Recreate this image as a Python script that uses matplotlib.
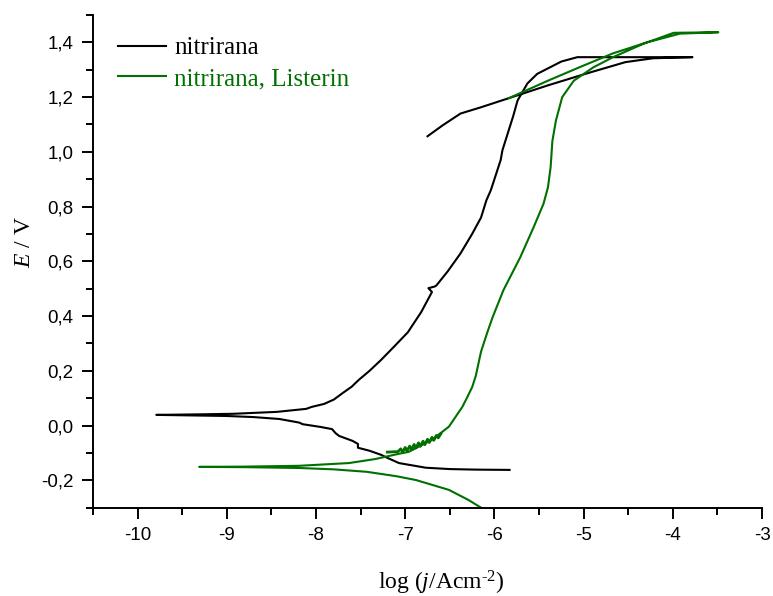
import matplotlib
matplotlib.use('Agg')
import matplotlib.pyplot as plt
from matplotlib.ticker import MultipleLocator, FuncFormatter

# nitrirana (black) - cathodic end -> Ecorr -> anodic -> reverse scan
black_x = [-5.83, -6.20, -6.50, -6.77, -7.07, -7.20, -7.27, -7.40, -7.53, -7.53,
           -7.59, -7.74, -7.78, -7.82, -7.95, -8.15, -8.19, -8.41,
           -8.70, -9.00, -9.19, -9.79, -9.30, -8.93, -8.44, -8.11, -8.05, -7.91,
           -7.80, -7.70, -7.60, -7.52, -7.40, -7.27, -7.12, -6.97, -6.82, -6.70,
           -6.74, -6.67, -6.65, -6.52, -6.38, -6.25, -6.15, -6.09, -6.04, -5.97,
           -5.93, -5.91, -5.85, -5.79, -5.74, -5.63, -5.52, -5.40, -5.25, -5.07,
           -3.78, -4.22, -4.53, -4.96, -5.40, -5.85, -6.15, -6.38, -6.58, -6.75]
black_y = [-0.162, -0.161, -0.159, -0.154, -0.137, -0.118, -0.107, -0.092, -0.081, -0.067,
           -0.056, -0.038, -0.028, -0.013, -0.005, 0.005, 0.011, 0.024,
           0.031, 0.035, 0.036, 0.039, 0.041, 0.043, 0.050, 0.061, 0.068, 0.079,
           0.095, 0.119, 0.142, 0.167, 0.200, 0.240, 0.290, 0.341, 0.415, 0.488,
           0.502, 0.508, 0.512, 0.565, 0.629, 0.700, 0.760, 0.823, 0.860, 0.930,
           0.970, 1.006, 1.068, 1.130, 1.188, 1.250, 1.285, 1.305, 1.330, 1.346,
           1.346, 1.342, 1.328, 1.287, 1.243, 1.195, 1.163, 1.140, 1.097, 1.057]

# nitrirana, Listerin (green)
green_x = [-6.10, -6.15, -6.29, -6.51, -6.88, -7.10, -7.43, -7.80, -8.19, -8.80,
           -9.31, -8.80, -8.19, -7.63, -7.33, -7.07, -6.96, -6.70, -6.51, -6.36,
           -6.31, -6.25, -6.21, -6.15, -6.08, -6.02, -5.90, -5.71, -5.56, -5.45,
           -5.40, -5.37, -5.35, -5.31, -5.24, -5.11, -4.89, -4.67, -4.33, -3.99,
           -3.49, -3.92, -4.29, -4.67, -5.04, -5.40, -5.84]
green_y = [-0.31, -0.300, -0.272, -0.235, -0.199, -0.185, -0.169, -0.160, -0.155, -0.152,
           -0.151, -0.150, -0.147, -0.137, -0.122, -0.103, -0.096, -0.052, -0.004, 0.068,
           0.100, 0.140, 0.180, 0.270, 0.340, 0.396, 0.494, 0.615, 0.725, 0.810,
           0.870, 0.944, 1.040, 1.115, 1.200, 1.260, 1.309, 1.346, 1.395, 1.435,
           1.437, 1.432, 1.400, 1.360, 1.310, 1.260, 1.196]

# noisy stub on the green curve
noise_x = [-7.20, -7.08, -7.05, -7.03, -7.00, -6.98, -6.95, -6.93, -6.90, -6.88,
           -6.85, -6.83, -6.80, -6.78, -6.75, -6.73, -6.70, -6.68, -6.65, -6.63, -6.60]
noise_y = [-0.097, -0.095, -0.085, -0.097, -0.080, -0.093, -0.075, -0.088, -0.069, -0.082,
           -0.063, -0.076, -0.057, -0.070, -0.050, -0.062, -0.043, -0.054, -0.036, -0.045, -0.030]

green = '#007000'

plt.rcParams['font.family'] = 'Liberation Sans'
plt.rcParams['mathtext.fontset'] = 'custom'
plt.rcParams['mathtext.rm'] = 'Liberation Serif'
plt.rcParams['mathtext.it'] = 'Liberation Serif:italic'
plt.rcParams['axes.unicode_minus'] = False

fig = plt.figure(figsize=(7.73, 5.96), dpi=100)
ax = fig.add_axes([0.1203, 0.1482, 0.8655, 0.8266])

ax.plot(black_x, black_y, color='black', lw=1.5, label='nitrirana')
ax.plot(green_x, green_y, color=green, lw=1.5, label='nitrirana, Listerin')
ax.plot(noise_x, noise_y, color=green, lw=2.0)

ax.set_xlim(-10.5, -3)
ax.set_ylim(-0.3, 1.5)
ax.xaxis.set_major_locator(MultipleLocator(1))
ax.xaxis.set_minor_locator(MultipleLocator(0.5))
ax.yaxis.set_minor_locator(MultipleLocator(0.1))
ax.set_yticks([-0.2, 0.0, 0.2, 0.4, 0.6, 0.8, 1.0, 1.2, 1.4])
ax.yaxis.set_major_formatter(FuncFormatter(lambda v, p: ('%.1f' % v).replace('.', ',')))
ax.xaxis.set_major_formatter(FuncFormatter(lambda v, p: '%d' % round(v)))

for s in ['top', 'right']:
    ax.spines[s].set_visible(False)
for s in ['left', 'bottom']:
    ax.spines[s].set_linewidth(1.4)
ax.tick_params(which='major', length=8, width=1.4, labelsize=13.5, pad=6)
ax.tick_params(which='minor', length=5, width=1.4)

ax.set_xlabel(r'log ($\mathit{j}$/Acm$^{\text{-2}}$)', fontsize=17, family='Liberation Serif')
ax.set_ylabel(r'$\mathit{E}$ / V', fontsize=17, family='Liberation Serif')
ax.xaxis.set_label_coords(0.52, -0.125)
ax.yaxis.set_label_coords(-0.087, 0.539)

leg = ax.legend(loc='upper left', bbox_to_anchor=(0.018, 0.981), frameon=False,
                handlelength=1.92, handletextpad=0.35, labelspacing=0.33,
                borderpad=0, prop={'family': 'Liberation Serif', 'size': 18},
                labelcolor='linecolor')

fig.savefig('out.png', dpi=100)
